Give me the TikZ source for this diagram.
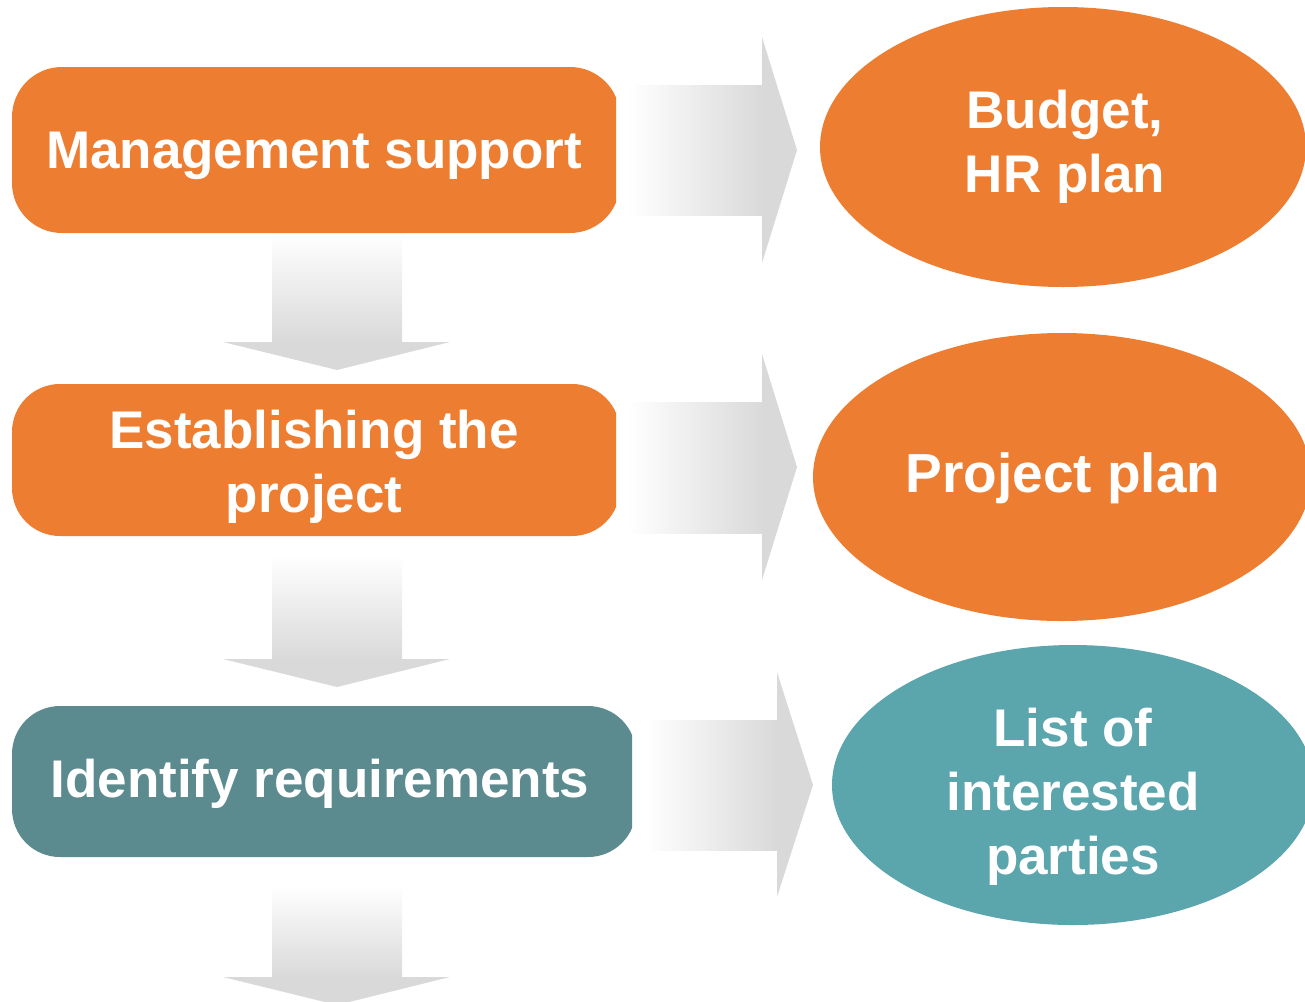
\documentclass[tikz,border=0pt]{standalone}
\usepackage{fontspec}
\setmainfont{Liberation Sans}
\usetikzlibrary{shapes.geometric}
\definecolor{myorange}{HTML}{ED7D31}
\definecolor{boxteal}{HTML}{5B8A8F}
\definecolor{elteal}{HTML}{5BA5AD}
\definecolor{arrgray}{HTML}{D9D9D9}
\begin{document}
\begin{tikzpicture}[x=1pt,y=-1pt,
  lbl/.style={text=white,font=\fontsize{53}{64}\selectfont\bfseries,align=center,inner sep=0pt},
  shaftH/.style={left color=white,right color=arrgray,draw=none},
  shaftV/.style={top color=white,bottom color=arrgray,draw=none},
  headfill/.style={fill=arrgray,draw=none}]
\useasboundingbox (0,0) rectangle (1305,1001);
\clip (0,0) rectangle (1305,1001);
% down arrows
\shade[shaftV] (272,233) rectangle (402,343);
\fill[headfill] (223,342) -- (450,342) -- (337,370) -- cycle;
\shade[shaftV] (272,555) rectangle (402,660);
\fill[headfill] (223,659) -- (450,659) -- (337,687) -- cycle;
\shade[shaftV] (272,885) rectangle (402,978);
\fill[headfill] (223,977) -- (450,977) -- (337,1005) -- cycle;
% right arrows
\shade[shaftH] (628,85) rectangle (763,215);
\fill[headfill] (762,37) -- (797,150) -- (762,263) -- cycle;
\shade[shaftH] (628,402) rectangle (763,533);
\fill[headfill] (762,354) -- (797,467) -- (762,580) -- cycle;
\shade[shaftH] (645,720) rectangle (778,850);
\fill[headfill] (777,672) -- (813,785) -- (777,897) -- cycle;
% boxes
\begin{scope}
\clip (0,0) rectangle (616,600);
\fill[myorange,rounded corners=50pt] (12,67) rectangle (620,233);
\fill[myorange,rounded corners=48pt] (12,384) rectangle (620,536);
\end{scope}
\begin{scope}
\clip (0,600) rectangle (632,1001);
\fill[boxteal,rounded corners=48pt] (12,706) rectangle (636,857);
\end{scope}
% ellipses
\fill[myorange] (1063,147) ellipse [x radius=243, y radius=140];
\fill[myorange] (1062,477) ellipse [x radius=249, y radius=144];
\fill[elteal] (1073,785) ellipse [x radius=241, y radius=140];
% texts
\node[lbl] (ms) at (314,156) {Management support};
\node[lbl] (ep) at (314,467) {Establishing the\\project};
\node[lbl] (ir) at (320,784) {Identify requirements};
\node[lbl] (bh) at (1065,147) {Budget,\\HR plan};
\node[lbl,font=\fontsize{55}{64}\selectfont\bfseries] (pp) at (1063,478) {Project plan};
\node[lbl] (li) at (1073,797) {List of\\interested\\parties};
\end{tikzpicture}
\end{document}
